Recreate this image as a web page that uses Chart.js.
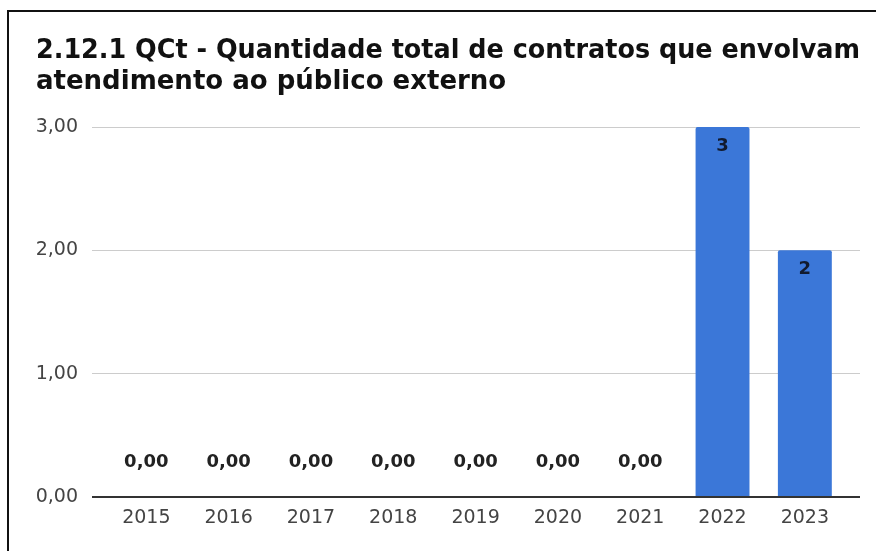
<!DOCTYPE html>
<html>
<head>
<meta charset="utf-8">
<script src="https://cdn.jsdelivr.net/npm/chart.js@4/dist/chart.umd.min.js"></script>
<style>
  body { margin: 0; background: #fff; }
  #wrap { position: relative; width: 876px; height: 551px; }
  #frame { position: absolute; left: 7px; top: 10px; right: -10px; bottom: -10px;
           border-top: 2px solid #111; border-left: 2px solid #111; pointer-events: none; }
</style>
</head>
<body>
<div id="wrap">
  <canvas id="chart" width="876" height="551"></canvas>
  <div id="frame"></div>
</div>
<script>
var years = ["2015", "2016", "2017", "2018", "2019", "2020", "2021", "2022", "2023"];
var values = [0, 0, 0, 0, 0, 0, 0, 3, 2];
var titleLines = ["2.12.1 QCt - Quantidade total de contratos que envolvam", "atendimento ao público externo"];

function formatValue(v) {
    // the sheet shows zeros as "0,00" but whole counts without decimals
    if (v === 0) {
        return "0,00";
    }
    return String(v);
}

var barLabels = {
    id: "barLabels",
    afterDatasetsDraw: function (chart) {
        var ctx = chart.ctx;
        var meta = chart.getDatasetMeta(0);
        ctx.save();
        ctx.font = "bold 18px 'DejaVu Sans'";
        ctx.textAlign = "center";
        ctx.textBaseline = "middle";
        meta.data.forEach(function (bar, i) {
            var v = values[i];
            if (v === 0) {
                ctx.fillStyle = "#222";
                ctx.fillText(formatValue(v), bar.x, bar.base - 35);
            } else {
                ctx.fillStyle = "#111a2e";
                ctx.fillText(formatValue(v), bar.x, bar.y + 19);
            }
        });
        ctx.restore();
    }
};

new Chart(document.getElementById("chart"), {
    type: "bar",
    data: {
        datasets: [
            {
                data: values.map(function (v, i) { return {x: i, y: v}; }),
                backgroundColor: "#3b77d8",
                borderRadius: 2,
                borderSkipped: "bottom",
                barPercentage: 0.655,
                categoryPercentage: 1
            }
        ]
    },
    options: {
        responsive: false,
        animation: false,
        layout: {
            padding: {left: 36, right: 16, top: 0, bottom: 0}
        },
        plugins: {
            legend: {
                display: false
            },
            tooltip: {
                enabled: false
            },
            title: {
                display: true,
                text: titleLines,
                align: "start",
                color: "#111",
                font: {family: "'DejaVu Sans'", size: 26, weight: "bold", lineHeight: 31 / 26},
                padding: {top: 36, bottom: 29}
            }
        },
        scales: {
            x: {
                type: "linear",
                offset: false,
                min: -0.66,
                max: 8.67,
                afterBuildTicks: function (scale) {
                    scale.ticks = years.map(function (y, i) { return {value: i}; });
                },
                afterFit: function (scale) {
                    scale.height = 54;
                },
                grid: {
                    display: false,
                    drawTicks: false
                },
                border: {
                    display: false
                },
                ticks: {
                    padding: 10,
                    color: "#444",
                    font: {family: "'DejaVu Sans'", size: 19},
                    maxRotation: 0,
                    autoSkip: false,
                    callback: function (value) {
                        return years[value];
                    }
                }
            },
            y: {
                min: 0,
                max: 3,
                afterFit: function (scale) {
                    scale.width = 56;
                },
                grid: {
                    drawTicks: false,
                    color: function (c) {
                        return c.tick.value === 0 ? "#333" : "#cccccc";
                    },
                    lineWidth: function (c) {
                        return c.tick.value === 0 ? 2 : 1;
                    }
                },
                border: {
                    display: false
                },
                ticks: {
                    stepSize: 1,
                    padding: 14,
                    color: "#444",
                    font: {family: "'DejaVu Sans'", size: 19},
                    callback: function (value) {
                        return value.toFixed(2).replace(".", ",");
                    }
                }
            }
        }
    },
    plugins: [barLabels]
});
</script>
</body>
</html>
